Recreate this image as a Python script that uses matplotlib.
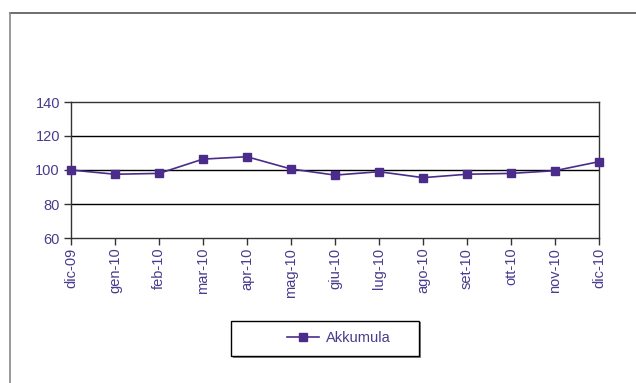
import matplotlib.pyplot as plt
from matplotlib.lines import Line2D
from matplotlib.patches import Rectangle

months = ['dic-09', 'gen-10', 'feb-10', 'mar-10', 'apr-10', 'mag-10', 'giu-10',
          'lug-10', 'ago-10', 'set-10', 'ott-10', 'nov-10', 'dic-10']
akkumula = [100, 97.5, 98, 106.4, 107.8, 100.6, 97, 99, 95.5, 97.5, 98, 99.6, 104.9]
yticks = [60, 80, 100, 120, 140]

text_col = '#4A3B8C'
line_col = '#4B2C8A'

plt.rcParams['font.family'] = ['Liberation Sans', 'DejaVu Sans']

W, H = 636, 383
fig = plt.figure(figsize=(W / 100, H / 100), dpi=100)
ax = fig.add_axes([71 / W, 1 - 238 / H, (599 - 71) / W, (238 - 102) / H])

x = list(range(len(months)))
ax.plot(x, akkumula, color=line_col, linewidth=1.2, marker='s', markersize=5.8,
        label='Akkumula', zorder=3, clip_on=False)

ax.set_xlim(0, len(months) - 1)
ax.set_ylim(60, 140)
ax.set_yticks(yticks)
ax.set_xticks(x)
ax.set_xticklabels(months, rotation=90)
for v in yticks[1:-1]:
    ax.axhline(v, color='black', linewidth=1, zorder=1)

ax.tick_params(axis='both', direction='out', length=5, width=1, colors='#333333',
               labelcolor=text_col, labelsize=10.5)
ax.tick_params(axis='x', pad=2)
ax.tick_params(axis='y', pad=3)
for s in ax.spines.values():
    s.set_color('#333333')
    s.set_linewidth(1)

# outer frame (top and left edges)
fig.add_artist(Line2D([10 / W, 1], [1 - 13 / H, 1 - 13 / H], color='#555555', linewidth=1.2))
fig.add_artist(Line2D([10 / W, 10 / W], [0, 1 - 13 / H], color='#888888', linewidth=1.2))

# legend box
fig.add_artist(Rectangle((233 / W, 1 - 358 / H), (421 - 233) / W, (358 - 322) / H,
                         transform=fig.transFigure, facecolor='#888888', edgecolor='none'))
fig.add_artist(Rectangle((231 / W, 1 - 356 / H), (419 - 231) / W, (356 - 321) / H,
                         transform=fig.transFigure, facecolor='white', edgecolor='black',
                         linewidth=1))
leg = fig.legend(loc='center', bbox_to_anchor=(339 / W, 1 - 338 / H), frameon=False,
                 fontsize=10.5, handlelength=2.2, handletextpad=0.5)
for t in leg.get_texts():
    t.set_color(text_col)

fig.savefig('out.png', dpi=100)
